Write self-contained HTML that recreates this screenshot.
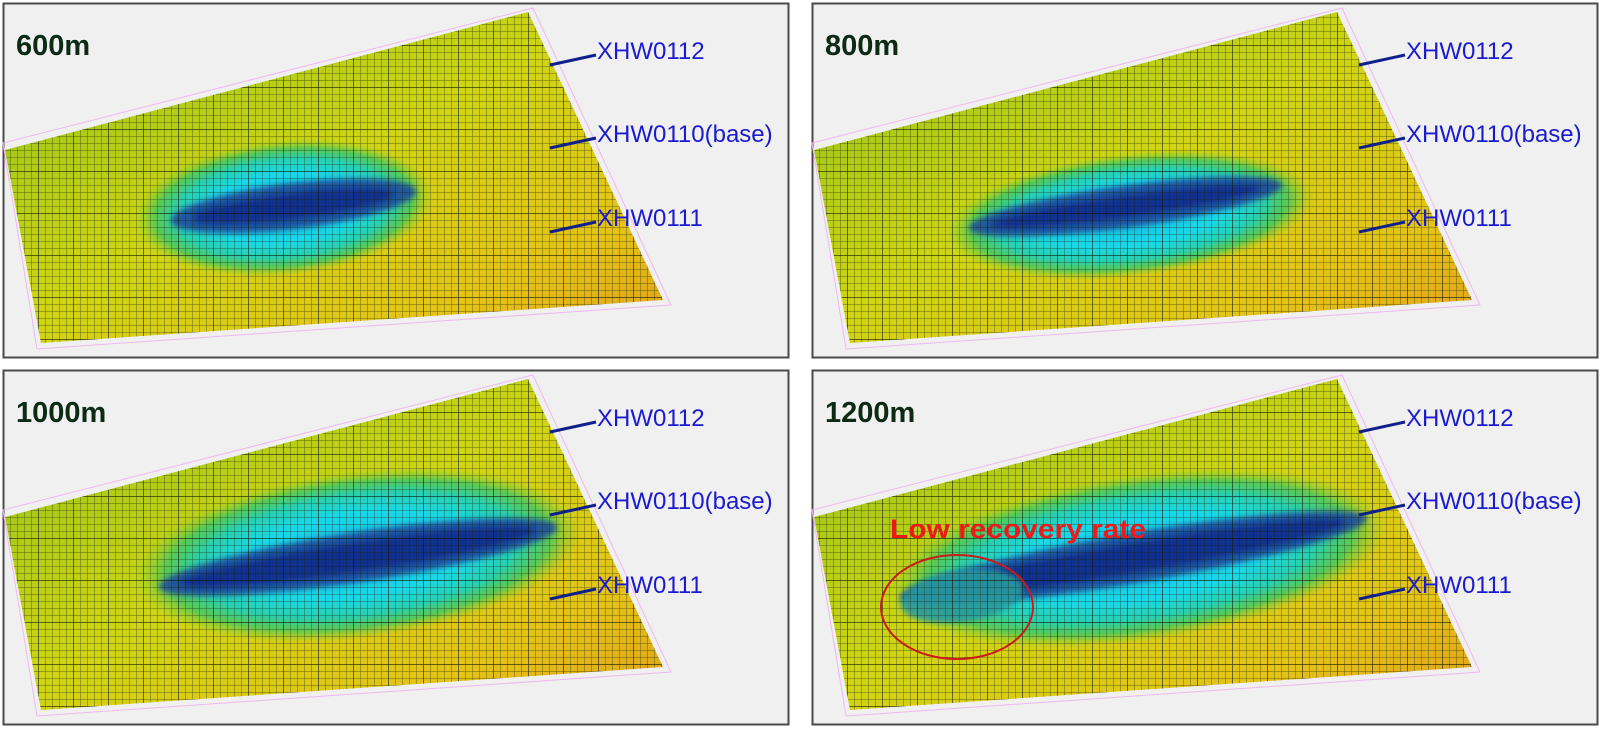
<!DOCTYPE html>
<html><head><meta charset="utf-8"><style>
html,body{margin:0;padding:0;background:#fff;width:1602px;height:730px;overflow:hidden}
svg{display:block}
</style></head><body>
<svg id="fig" xmlns="http://www.w3.org/2000/svg" width="1602" height="730" viewBox="0 0 1602 730">
<defs>
<linearGradient id="base" x1="0" y1="0" x2="1" y2="1">
<stop offset="0" stop-color="#8cc01c"/><stop offset="0.45" stop-color="#cfd514"/><stop offset="0.75" stop-color="#e4c316"/><stop offset="1" stop-color="#e0941c"/>
</linearGradient>
<radialGradient id="halo">
<stop offset="0" stop-color="#18b8e4"/><stop offset="0.5" stop-color="#1ad8e8"/><stop offset="0.72" stop-color="#28d0b0"/><stop offset="0.86" stop-color="#44c860" stop-opacity="0.85"/><stop offset="1" stop-color="#8cd030" stop-opacity="0"/>
</radialGradient>
<filter id="soft" x="-20%" y="-50%" width="140%" height="200%"><feGaussianBlur stdDeviation="3"/></filter>
<pattern id="grid" width="7" height="7" patternUnits="userSpaceOnUse">
<path d="M0 0V7M0 0H7" stroke="#142004" stroke-width="1" stroke-opacity="0.6" fill="none"/>
</pattern>
<pattern id="grid2" width="35" height="42" patternUnits="userSpaceOnUse">
<path d="M0 0V42M0 0H35" stroke="#0a1204" stroke-width="1.4" stroke-opacity="0.65" fill="none"/>
</pattern>
</defs>
</svg>
<script>
const panelLabels = ["600m","800m","1000m","1200m"];
const panelX = [3,812,3,812];
const panelY = [3,3,370,370];
const haloCx = [281,318,355,327];
const haloCy = [205,212,185,188];
const haloRx = [150,185,225,250];
const haloRy = [68,62,84,84];
const blobX1 = [168,157,156,88];
const blobY1 = [218,225,217,228];
const blobX2 = [413,470,554,555];
const blobY2 = [188,182,157,148];
const blobW = [46,42,50,50];
const wellNames = ["XHW0112","XHW0110(base)","XHW0111"];
const wellY = [47,130,214];

const NS="http://www.w3.org/2000/svg";
const svg=document.getElementById('fig');
function mk(tag,attrs,parent){const e=document.createElementNS(NS,tag);for(const k in attrs)e.setAttribute(k,attrs[k]);(parent||svg).appendChild(e);return e;}
const poly="525,9 2,147 38,340 660,297";
const outline="530,5 0,140 34,346 668,302";

panelLabels.forEach((lab,i)=>{
  const g=mk('g',{transform:`translate(${panelX[i]},${panelY[i]})`});
  
  
  const fr=mk('rect',{x:0.5,y:0.5,width:785,height:354,fill:'#f0f0f0',stroke:'#4a4a4a','stroke-width':2},g);
  
  
  const ol=mk('polygon',{points:outline,fill:'none',stroke:'#f0b8f0','stroke-width':1},g);
  
  
  const cid='clip'+i;
  const cp=mk('clipPath',{id:cid},g);mk('polygon',{points:poly},cp);
  const m=mk('g',{'clip-path':`url(#${cid})`},g);
  
  
  mk('rect',{x:0,y:0,width:700,height:360,fill:'url(#base)'},m);
  const ang=Math.atan2(blobY2[i]-blobY1[i],blobX2[i]-blobX1[i])*180/Math.PI;
  const h=mk('ellipse',{cx:haloCx[i],cy:haloCy[i],rx:haloRx[i],ry:haloRy[i],fill:'url(#halo)',transform:`rotate(${ang*0.8} ${haloCx[i]} ${haloCy[i]})`},m);
  
  
  const bx=(blobX1[i]+blobX2[i])/2,by=(blobY1[i]+blobY2[i])/2;
  const len=Math.hypot(blobX2[i]-blobX1[i],blobY2[i]-blobY1[i]);
  const b=mk('ellipse',{cx:bx,cy:by,rx:len/2,ry:blobW[i]/2,fill:'#1e4a9c','fill-opacity':0.9,filter:'url(#soft)',transform:`rotate(${ang} ${bx} ${by})`},m);
  
  
  const b2=mk('ellipse',{cx:bx,cy:by,rx:len/2-22,ry:blobW[i]/2-10,fill:'#0e2a8a','fill-opacity':0.85,filter:'url(#soft)',transform:`rotate(${ang} ${bx} ${by})`},m);
  
  
  if(i===3){
    const t=mk('ellipse',{cx:150,cy:226,rx:62,ry:26,fill:'#2a9aa0','fill-opacity':0.9,filter:'url(#soft)',transform:'rotate(-8 150 226)'},m);
    
    
  }
  mk('rect',{x:0,y:0,width:700,height:360,fill:'url(#grid)'},m);
  mk('rect',{x:0,y:0,width:700,height:360,fill:'url(#grid2)'},m);
  const tl=mk('text',{x:13,y:52,'font-family':'Liberation Sans, sans-serif','font-weight':'bold','font-size':29,fill:'#0c2a14'},g);
  tl.textContent=lab;
  
  
  wellNames.forEach((w,j)=>{
    const ln=mk('line',{x1:547,y1:wellY[j]+15,x2:593,y2:wellY[j]+5,stroke:'#10208a','stroke-width':3},g);
    
    
    const wt=mk('text',{x:594,y:wellY[j]+9,'font-family':'Liberation Sans, sans-serif','font-size':24,fill:'#1a1ad0'},g);
    wt.textContent=w;
    
    
  });
  if(i===3){
    const rc=mk('ellipse',{cx:145,cy:237,rx:76,ry:52,fill:'none',stroke:'#cc1a1a','stroke-width':2},g);
    
    
    const rt=mk('text',{x:78,y:168,'font-family':'Liberation Sans, sans-serif','font-weight':'bold','font-size':27,fill:'#ee1a1a',textLength:256,lengthAdjust:'spacingAndGlyphs'},g);
    rt.textContent='Low recovery rate';
    
    
  }
});
</script>
</body></html>
